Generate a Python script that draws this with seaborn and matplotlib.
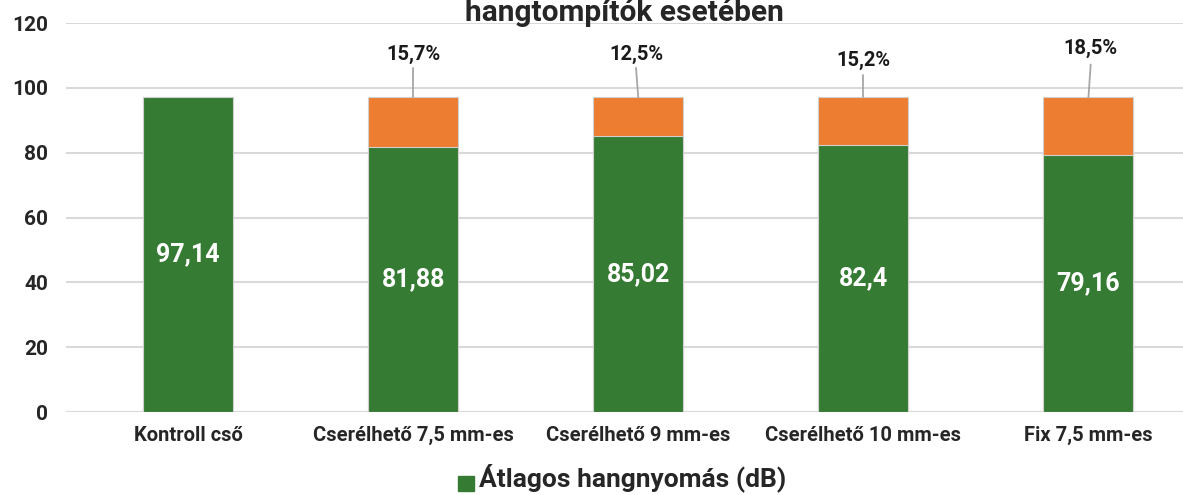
import numpy as np
import pandas as pd
import matplotlib
matplotlib.use("Agg")
import matplotlib.pyplot as plt
import seaborn as sns

categories = ["Kontroll cső", "Cserélhető 7,5 mm-es", "Cserélhető 9 mm-es",
              "Cserélhető 10 mm-es", "Fix 7,5 mm-es"]
hangnyomas = [97.14, 81.88, 85.02, 82.4, 79.16]
value_labels = ["97,14", "81,88", "85,02", "82,4", "79,16"]
pct_labels = ["", "15,7%", "12,5%", "15,2%", "18,5%"]
yticks = [0, 20, 40, 60, 80, 100, 120]

GREEN = "#367B33"
ORANGE = "#ED7D31"

sns.set_theme(style="white")
plt.rcParams['font.family'] = ['Roboto', 'DejaVu Sans']
plt.rcParams['font.weight'] = 'bold'

control = hangnyomas[0]
df = pd.DataFrame({"cat": categories, "val": hangnyomas})
df["total"] = control  # green + reduction stacked up to the control level

fig = plt.figure(figsize=(11.83, 4.95), dpi=100)
ax = fig.add_axes([66 / 1183, 83 / 495, 1 - 66 / 1183, (412 - 23) / 495])

sns.barplot(data=df, x="cat", y="total", color=ORANGE, width=0.4,
            saturation=1, ax=ax, edgecolor="#d0d0d0", linewidth=0.8)
sns.barplot(data=df, x="cat", y="val", color=GREEN, width=0.4,
            saturation=1, ax=ax, edgecolor="#d0d0d0", linewidth=0.8)

ax.set_ylim(0, 120)
ax.set_xlim(-0.542, 4.42)
ax.set_yticks(yticks)
ax.set_yticklabels([str(t) for t in yticks], fontsize=15, fontweight='bold')
ax.tick_params(axis='x', labelsize=14.5, pad=10, length=0)
ax.tick_params(axis='y', pad=13, length=0)
for lbl in ax.get_xticklabels():
    lbl.set_fontweight('bold')
ax.set_xlabel("")
ax.set_ylabel("")
ax.yaxis.grid(True, color="#d9d9d9", linewidth=1.5)
ax.set_axisbelow(True)
sns.despine(ax=ax, left=True, bottom=True)
ax.axhline(0, color="#d9d9d9", linewidth=1.5, zorder=0.5)

# value labels inside green bars
for i, (v, t) in enumerate(zip(hangnyomas, value_labels)):
    ax.text(i, v / 2, t, ha='center', va='center', color='white',
            fontsize=18, fontweight='bold')

# percentage reduction labels with leader lines
label_pos = [None, (0, 110.2, 106.2), (-0.01, 110.4, 106.2),
             (0, 108.6, 104.0), (0.01, 112.3, 107.2)]
for i, lab in enumerate(pct_labels):
    if not lab:
        continue
    dx, ty, ly = label_pos[i]
    ax.text(i + dx, ty, lab, ha='center', va='center', fontsize=14.5,
            fontweight='bold', color='#1a1a1a')
    ax.plot([i + dx, i], [ly, control], color='#a6a6a6', linewidth=1.3)

# legend
fig.patches.append(plt.Rectangle((458 / 1183, 1 - 491 / 495), 16 / 1183, 15 / 495,
                                 transform=fig.transFigure, color=GREEN))
fig.text(479 / 1183, 1 - 478 / 495, "Átlagos hangnyomás (dB)", ha='left',
         va='center', fontsize=19, fontweight='bold')

# title (upper line is outside the visible canvas)
fig.text(624 / 1183, 1 - 21 / 495, "hangtompítók esetében", ha='center',
         va='baseline', fontsize=21.5, fontweight='bold')

fig.savefig("out.png", dpi=100)
